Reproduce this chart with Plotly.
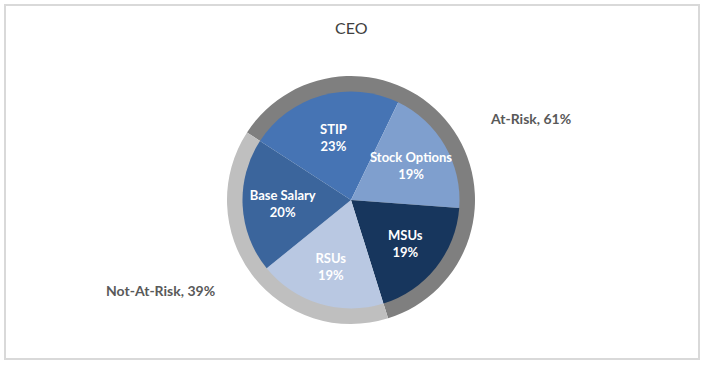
import plotly.graph_objects as go

# Data
components = ["STIP", "Stock Options", "MSUs", "RSUs", "Base Salary"]
component_pct = [23, 19, 19, 19, 20]
risk_groups = ["At-Risk", "Not-At-Risk"]
risk_pct = [61, 39]

component_colors = ["#4674B4", "#7F9FCE", "#17365D", "#B9C8E2", "#3B659C"]
risk_colors = ["#7F7F7F", "#BFBFBF"]

W, H = 704, 365
cx, cy = 351, 200
r_out, r_in = 124, 108.5
rotation = -57  # start angle (degrees clockwise from 12 o'clock)

def dom(r):
    return dict(x=[(cx - r) / W, (cx + r) / W],
                y=[(H - cy - r) / H, (H - cy + r) / H])

fig = go.Figure()

fig.add_trace(go.Pie(
    labels=risk_groups, values=risk_pct, sort=False, direction="clockwise",
    rotation=rotation, hole=(r_in - 1) / r_out, domain=dom(r_out),
    marker=dict(colors=risk_colors, line=dict(width=0)),
    textinfo="none", hoverinfo="label+percent", showlegend=False,
))

fig.add_trace(go.Pie(
    labels=components, values=component_pct, sort=False, direction="clockwise",
    rotation=rotation, domain=dom(r_in),
    marker=dict(colors=component_colors, line=dict(width=0)),
    texttemplate="<b>%{label}</b><br><b>%{value}%</b>",
    textposition="inside", insidetextorientation="horizontal",
    textfont=dict(family="Lato", size=13, color="white"),
    hoverinfo="label+percent", showlegend=False,
))

# Outer-ring labels
label_pos = [(530, 118), (160, 290)]
for name, pct, (lx, ly) in zip(risk_groups, risk_pct, label_pos):
    fig.add_annotation(
        text=f"<b>{name}, {pct}%</b>", x=lx / W, y=1 - ly / H,
        xref="paper", yref="paper", showarrow=False,
        font=dict(family="Lato", size=14, color="#595959"),
        xanchor="center", yanchor="middle",
    )

fig.add_annotation(
    text="CEO", x=cx / W, y=1 - 27 / H, xref="paper", yref="paper",
    showarrow=False, font=dict(family="Lato", size=16, color="#404040"),
    xanchor="center", yanchor="middle",
)

fig.add_shape(type="rect", xref="paper", yref="paper",
              x0=5 / W, x1=699 / W, y0=1 - 359 / H, y1=1 - 5 / H,
              line=dict(color="#D9D9D9", width=2), fillcolor="rgba(0,0,0,0)")

fig.update_layout(
    width=W, height=H, margin=dict(l=0, r=0, t=0, b=0),
    paper_bgcolor="white", plot_bgcolor="white",
    uniformtext=dict(minsize=13, mode="show"),
)

fig.write_html("out.html", config={"displayModeBar": False},
               post_script="document.body.style.margin='0';document.body.style.overflow='hidden';")
